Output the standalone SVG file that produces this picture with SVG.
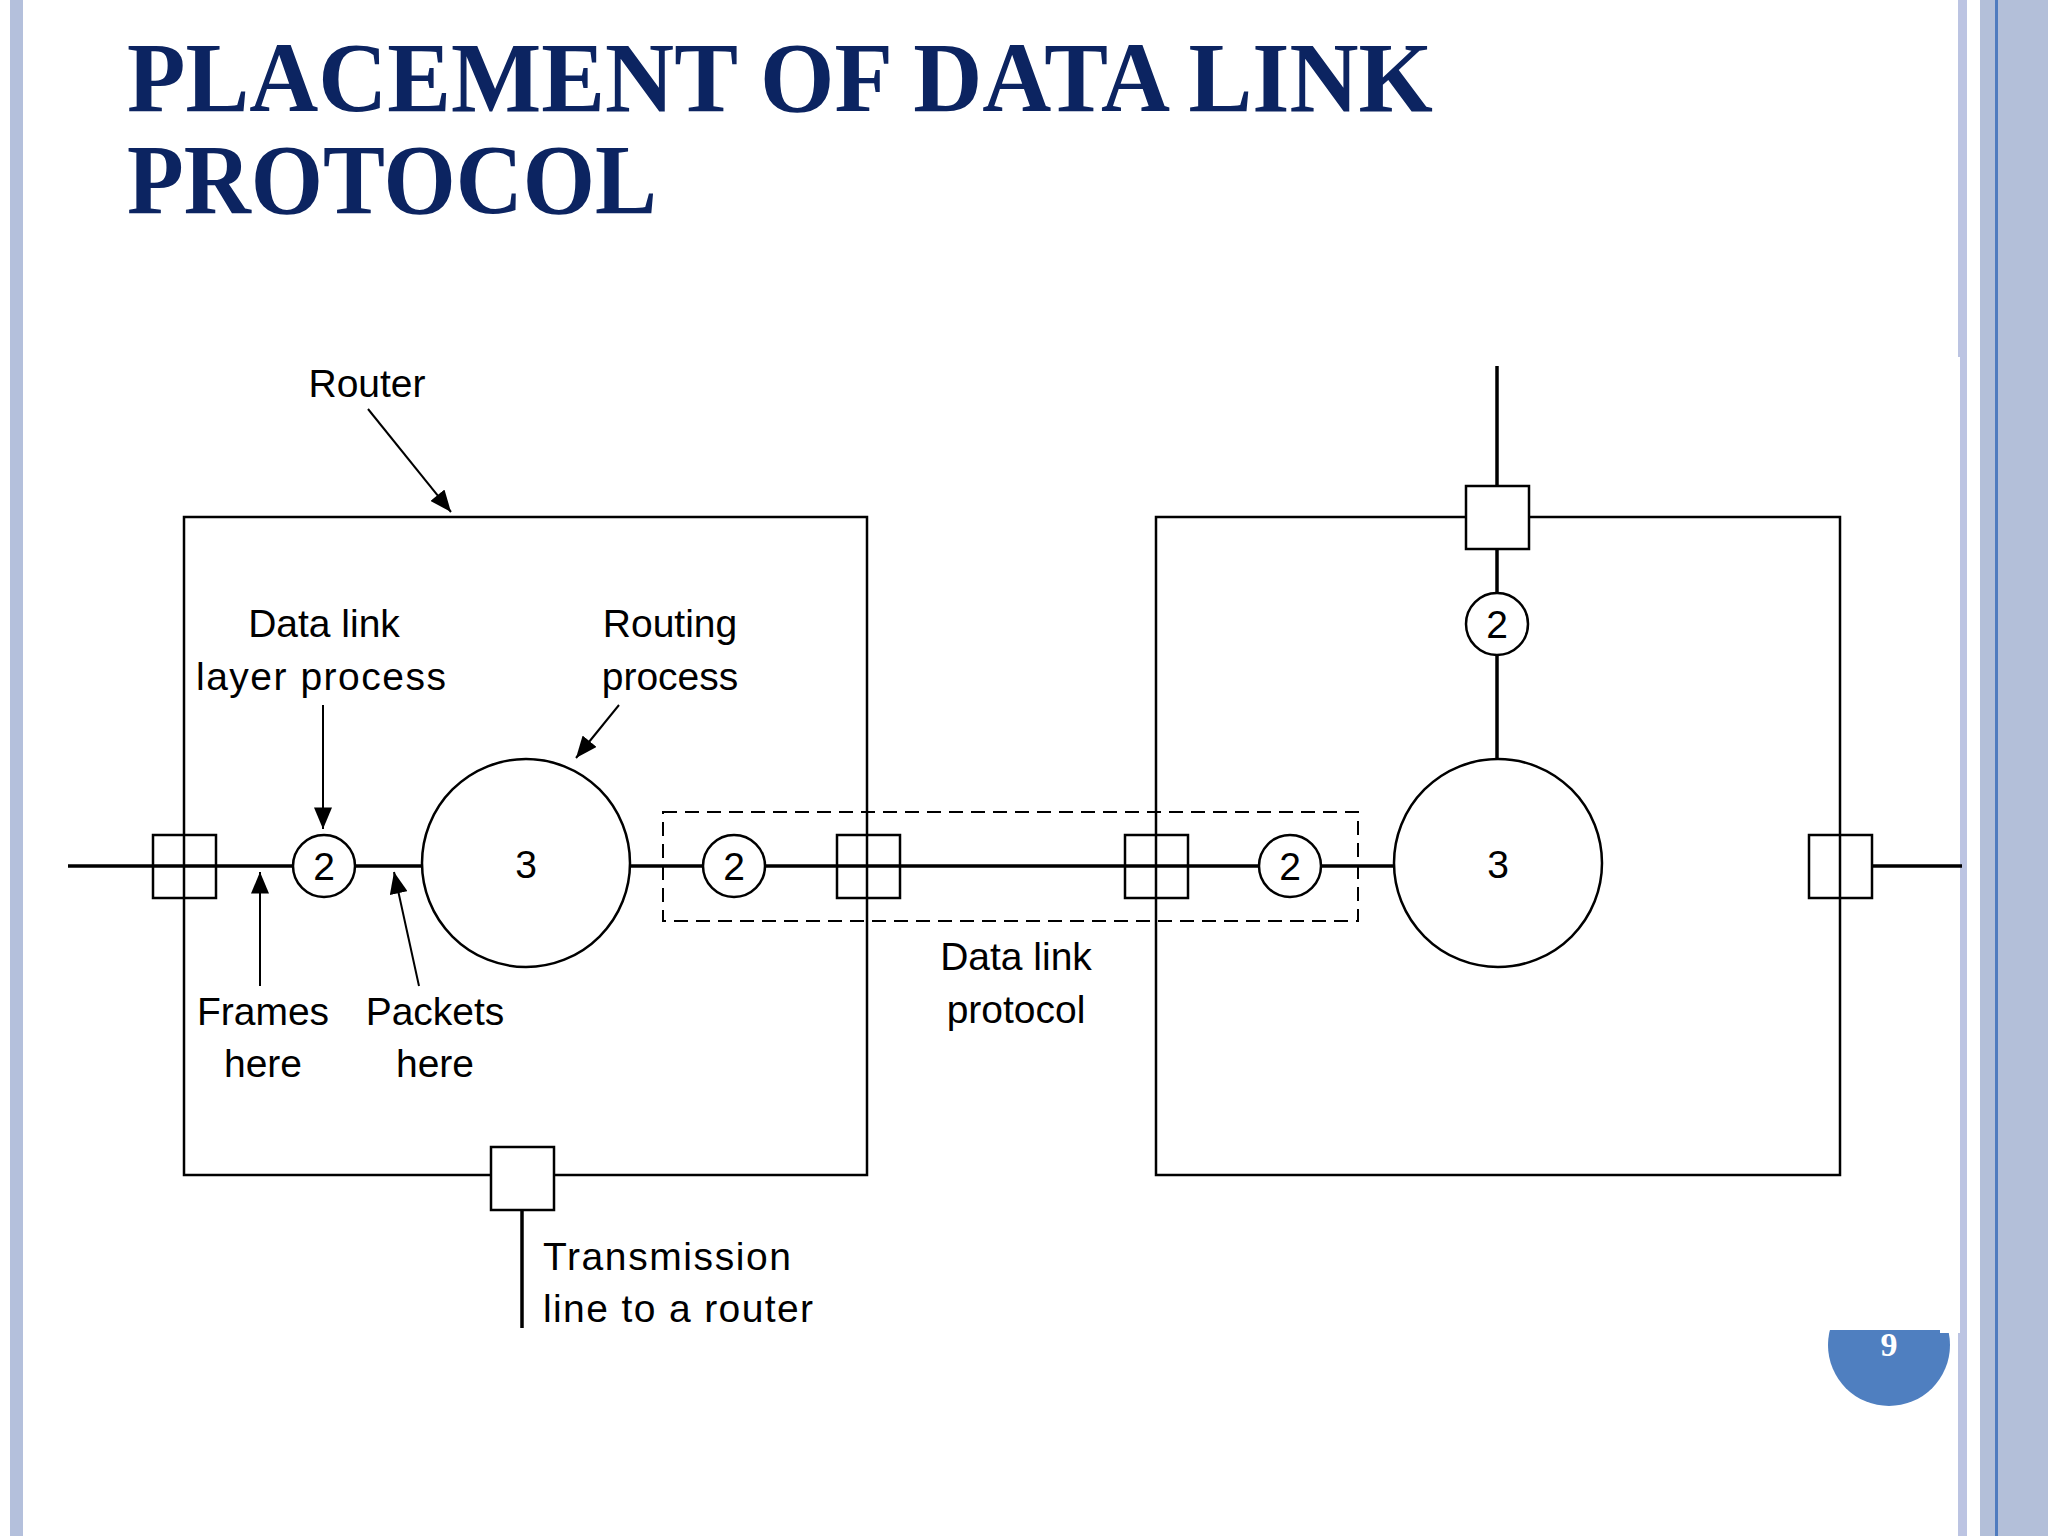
<svg xmlns="http://www.w3.org/2000/svg" width="2048" height="1536" viewBox="0 0 2048 1536">
<defs>
<marker id="a" viewBox="0 0 12 10" refX="12" refY="5" markerWidth="22" markerHeight="18" markerUnits="userSpaceOnUse" orient="auto"><path d="M0,0 L12,5 L0,10 z" fill="#000"/></marker>
</defs>
<style>
.s{fill:#fff;stroke:#000;stroke-width:2.5}
.n{fill:none;stroke:#000;stroke-width:2.5}
.l{stroke:#000;stroke-width:3.5;fill:none}
.t{font-family:"Liberation Sans",Arial,sans-serif;font-size:39px;fill:#000}
.c{text-anchor:middle}
.ar{stroke:#000;stroke-width:2;marker-end:url(#a)}
</style>
<rect width="2048" height="1536" fill="#fff"/>
<rect x="10" y="0" width="13" height="1536" fill="#b4c0dc"/>
<rect x="1958" y="0" width="9" height="1536" fill="#bcc4e2"/>
<rect x="1980" y="0" width="68" height="1536" fill="#b3bfd9"/>
<rect x="1995" y="0" width="3" height="1536" fill="#4f7bbf"/>
<circle cx="1889" cy="1345" r="61" fill="#4f7fc0"/>
<rect x="1940" y="357" width="20" height="976" fill="#fff"/>
<rect x="1700" y="1280" width="260" height="50" fill="#fff"/>
<text x="1889" y="1356" font-family="Liberation Serif,serif" font-weight="bold" font-size="34" fill="#fff" text-anchor="middle">9</text>
<g id="title" font-family="Liberation Serif,serif" font-weight="bold" font-size="100" fill="#0c2461">
<text x="127" y="111" textLength="1306" lengthAdjust="spacingAndGlyphs">PLACEMENT OF DATA LINK</text>
<text x="127" y="213" textLength="530" lengthAdjust="spacingAndGlyphs">PROTOCOL</text>
</g>
<g id="connectors">
<line class="l" x1="68" y1="866" x2="1460" y2="866"/>
<line class="l" x1="1872" y1="866" x2="1962" y2="866"/>
<line class="l" x1="1497" y1="366" x2="1497" y2="760"/>
<line class="l" x1="522" y1="1178" x2="522" y2="1328"/>
<line class="ar" x1="368" y1="409" x2="451" y2="512"/>
<line class="ar" x1="323" y1="705" x2="323" y2="829"/>
<line class="ar" x1="619" y1="705" x2="576" y2="758"/>
<line class="ar" x1="260" y1="986" x2="260" y2="872"/>
<line class="ar" x1="419" y1="986" x2="394" y2="872"/>
</g>
<g id="router-left"><rect class="n" x="184" y="517" width="683" height="658"/></g>
<g id="router-right"><rect class="n" x="1156" y="517" width="684" height="658"/></g>
<g id="dashed"><rect x="663" y="812" width="695" height="109" fill="none" stroke="#000" stroke-width="2" stroke-dasharray="14,8"/></g>
<g id="ports">
<rect class="n" x="153" y="835" width="63" height="63"/>
<rect class="n" x="837" y="835" width="63" height="63"/>
<rect class="n" x="1125" y="835" width="63" height="63"/>
<rect class="n" x="1809" y="835" width="63" height="63"/>
<rect class="s" x="1466" y="486" width="63" height="63"/>
<rect class="s" x="491" y="1147" width="63" height="63"/>
</g>
<g id="dl1"><circle class="s" cx="324" cy="866" r="31"/><text class="t c" x="324" y="880">2</text></g>
<g id="dl2"><circle class="s" cx="734" cy="866" r="31"/><text class="t c" x="734" y="880">2</text></g>
<g id="dl3"><circle class="s" cx="1290" cy="866" r="31"/><text class="t c" x="1290" y="880">2</text></g>
<g id="dl4"><circle class="s" cx="1497" cy="624" r="31"/><text class="t c" x="1497" y="638">2</text></g>
<g id="rp1"><circle class="s" cx="526" cy="863" r="104"/><text class="t c" x="526" y="878" font-size="36">3</text></g>
<g id="rp2"><circle class="s" cx="1498" cy="863" r="104"/><text class="t c" x="1498" y="878" font-size="36">3</text></g>
<g id="labels">
<text class="t c" x="367" y="397">Router</text>
<text class="t c" x="324" y="637">Data link</text>
<text class="t c" x="321" y="690" textLength="250">layer process</text>
<text class="t c" x="670" y="637">Routing</text>
<text class="t c" x="670" y="690">process</text>
<text class="t c" x="263" y="1025">Frames</text>
<text class="t c" x="263" y="1077">here</text>
<text class="t c" x="435" y="1025">Packets</text>
<text class="t c" x="435" y="1077">here</text>
<text class="t c" x="1016" y="970">Data link</text>
<text class="t c" x="1016" y="1023">protocol</text>
<text class="t" x="543" y="1270" textLength="248">Transmission</text>
<text class="t" x="543" y="1322" textLength="270">line to a router</text>
</g>
</svg>
